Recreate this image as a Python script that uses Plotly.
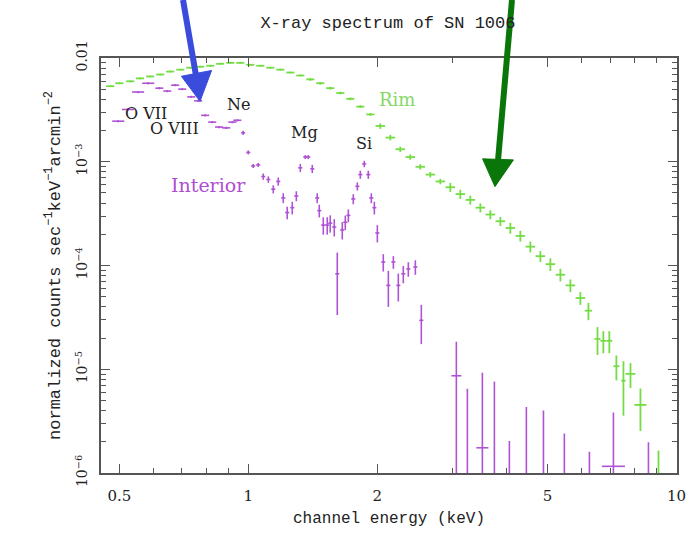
import numpy as np
import plotly.graph_objects as go

# ---------------- data ----------------
rim_energy = [0.476, 0.500, 0.530, 0.559, 0.590, 0.623, 0.657, 0.694, 0.732, 0.772,
              0.815, 0.860, 0.908, 0.958, 1.011, 1.067, 1.126, 1.188, 1.254, 1.323,
              1.396, 1.473, 1.554, 1.641, 1.731, 1.827, 1.928,
              2.034, 2.147, 2.265, 2.390, 2.522, 2.662, 2.809,
              2.964, 3.128, 3.301, 3.484, 3.676, 3.879,
              4.094, 4.320, 4.559, 4.811,
              5.077, 5.358, 5.654, 5.966,
              6.23, 6.54, 6.75, 6.97, 7.24, 7.52, 7.81, 8.24, 9.08]
rim_flux = [5.35e-3, 5.71e-3, 5.96e-3, 6.36e-3, 6.64e-3, 6.93e-3, 7.40e-3, 7.72e-3, 8.06e-3, 8.24e-3,
            8.42e-3, 8.79e-3, 8.98e-3, 8.98e-3, 8.60e-3, 8.42e-3, 8.06e-3, 7.72e-3, 7.24e-3, 6.78e-3,
            6.22e-3, 5.71e-3, 5.12e-3, 4.60e-3, 4.04e-3, 3.40e-3, 2.86e-3,
            2.21e-3, 1.71e-3, 1.32e-3, 1.11e-3, 8.94e-4, 7.52e-4, 6.46e-4,
            5.68e-4, 4.88e-4, 4.29e-4, 3.61e-4, 3.10e-4, 2.67e-4,
            2.30e-4, 1.93e-4, 1.52e-4, 1.23e-4,
            1.03e-4, 8.15e-5, 6.43e-5, 4.86e-5,
            3.67e-5, 1.96e-5, 1.88e-5, 1.88e-5, 1.07e-5, 7.76e-6, 9.03e-6, 4.53e-6, 9.0e-7]
rim_rel_err = [0.02] * 20 + [0.03] * 7 + [0.06] * 7 + [0.10] * 6 + [0.12] * 4 + [0.14] * 4 + \
              [0.19, 0.30, 0.24, 0.24, 0.27, 0.54, 0.27, 0.44, 0.83]
rim_rel_bin = [0.022] * 27 + [0.026] * 21 + [0.02, 0.016, 0.016, 0.016, 0.016, 0.012, 0.027, 0.033, 0.02]

int_energy = [0.497, 0.524, 0.553, 0.584, 0.620, 0.647, 0.675, 0.701, 0.736, 0.764,
              0.793, 0.824, 0.855, 0.888, 0.918, 0.943, 0.973, 1.000, 1.027, 1.055,
              1.084, 1.114, 1.144, 1.175, 1.207, 1.233, 1.267, 1.295, 1.323, 1.359,
              1.381, 1.411, 1.449, 1.465, 1.497, 1.529, 1.554, 1.588, 1.614, 1.658,
              1.685, 1.713, 1.759, 1.798, 1.827, 1.866, 1.907, 1.938, 1.970, 2.002,
              2.067, 2.124, 2.182, 2.241, 2.302, 2.365, 2.456, 2.536, 3.062, 3.249,
              3.522, 3.757, 4.072, 4.462, 4.891, 5.473, 6.262, 7.125, 8.602]
int_flux = [2.46e-3, 3.19e-3, 4.70e-3, 5.71e-3, 5.12e-3, 4.80e-3, 5.47e-3, 5.01e-3, 4.22e-3, 3.87e-3,
            2.80e-3, 2.41e-3, 2.16e-3, 2.12e-3, 2.41e-3, 2.51e-3, 1.90e-3, 1.23e-3, 9.12e-4, 9.33e-4,
            7.20e-4, 6.75e-4, 5.44e-4, 6.46e-4, 4.48e-4, 3.24e-4, 3.61e-4, 4.68e-4, 8.74e-4, 1.11e-3,
            1.11e-3, 8.55e-4, 4.48e-4, 3.38e-4, 2.45e-4, 2.45e-4, 2.56e-4, 2.35e-4, 8.32e-5, 2.20e-4,
            2.61e-4, 3.04e-4, 4.38e-4, 5.80e-4, 7.52e-4, 9.53e-4, 7.52e-4, 4.48e-4, 3.61e-4, 2.06e-4,
            1.08e-4, 6.43e-5, 1.08e-4, 6.43e-5, 8.32e-5, 9.27e-5, 9.68e-5, 2.96e-5, 8.65e-6, 8.0e-7,
            1.75e-6, 8.0e-7, 6.0e-7, 8.0e-7, 8.0e-7, 6.0e-7, 5.0e-7, 1.16e-6, 6.0e-7]
int_rel_err = [0.025] * 16 + [0.045, 0.045, 0.045, 0.045, 0.07, 0.07, 0.09, 0.09, 0.11, 0.14,
               0.14, 0.11, 0.09, 0.045, 0.045, 0.09, 0.11, 0.14, 0.19, 0.19,
               0.19, 0.19, 0.6, 0.19, 0.16, 0.14, 0.11, 0.09, 0.09, 0.07,
               0.09, 0.11, 0.14, 0.19, 0.19, 0.38, 0.14, 0.3, 0.19, 0.16,
               0.16, 0.41, 1.13, 7.1, 4.3, 8.5, 2.4, 4.4, 4.0, 3.0,
               2.2, 2.3, 2.3]
int_rel_bin = [0.033] * 4 + [0.022] * 12 + [0.011] * 42 + \
              [0.027, 0.02, 0.033, 0.02, 0.02, 0.02, 0.02, 0.02, 0.02, 0.064, 0.02]

x_tick_vals = [0.5, 1, 2, 5, 10]
x_tick_text = ["0.5", "1", "2", "5", "10"]
x_minor_vals = [0.6, 0.7, 0.8, 0.9, 3, 4, 6, 7, 8, 9]
y_tick_vals = [1e-6, 1e-5, 1e-4, 1e-3, 1e-2]
y_tick_text = ["10<sup>−6</sup>", "10<sup>−5</sup>", "10<sup>−4</sup>", "10<sup>−3</sup>", "0.01"]

line_labels = ["O VII", "O VIII", "Ne", "Mg", "Si"]
line_label_x = [0.578, 0.672, 0.948, 1.352, 1.866]
line_label_y = [2.92e-3, 2.07e-3, 3.55e-3, 1.90e-3, 1.50e-3]

assert len(rim_energy) == len(rim_flux) == len(rim_rel_err) == len(rim_rel_bin)
assert len(int_energy) == len(int_flux) == len(int_rel_err) == len(int_rel_bin)

# ---------------- styling ----------------
GREEN = "#74dc44"
PURPLE = "#b052d4"
AXC = "#555555"
TXT = "#222222"
SERIF = "DejaVu Serif"
MONO = "Liberation Mono"


def spec_trace(e, f, rel, binrel, color, thick):
    e = np.array(e); f = np.array(f); rel = np.array(rel); b = np.array(binrel)
    return go.Scatter(
        x=e, y=f, mode="markers",
        marker=dict(size=1, color=color),
        error_y=dict(type="data", array=f * rel, arrayminus=f * rel,
                     thickness=thick, width=0, color=color),
        error_x=dict(type="data", array=e * b, arrayminus=e * b / (1 + b),
                     thickness=thick, width=0, color=color),
        showlegend=False, hoverinfo="skip",
    )


fig = go.Figure()
fig.add_trace(spec_trace(rim_energy, rim_flux, rim_rel_err, rim_rel_bin, GREEN, 1.8))
fig.add_trace(spec_trace(int_energy, int_flux, int_rel_err, int_rel_bin, PURPLE, 1.6))

y_minor_vals = [k * 10.0 ** p for p in range(-6, -2) for k in range(2, 10)]

fig.update_layout(
    width=699, height=536,
    margin=dict(l=101, r=22, t=58, b=51),
    paper_bgcolor="white", plot_bgcolor="white",
    title=dict(text="X-ray spectrum of SN 1006", x=0.555, xanchor="center",
               y=0.958, yanchor="middle", yref="container",
               font=dict(family=MONO, size=17, color=TXT)),
    xaxis=dict(type="log", range=[np.log10(0.453), np.log10(10.03)],
               tickvals=x_tick_vals, ticktext=x_tick_text,
               ticks="inside", ticklen=9, tickwidth=1.2, tickcolor=AXC,
               showline=True, linecolor=AXC, linewidth=2, mirror="allticks",
               showgrid=False, zeroline=False,
               minor=dict(tickvals=x_minor_vals, ticks="inside", ticklen=5,
                          tickwidth=1.2, tickcolor=AXC, showgrid=False),
               tickfont=dict(family=SERIF, size=15, color=TXT),
               ticklabelstandoff=8,
               title=dict(text="channel energy (keV)", standoff=8,
                          font=dict(family=MONO, size=16, color=TXT))),
    yaxis=dict(type="log", range=[-6, -2],
               tickvals=y_tick_vals, ticktext=y_tick_text, tickangle=-90,
               ticks="inside", ticklen=9, tickwidth=1.2, tickcolor=AXC,
               showline=True, linecolor=AXC, linewidth=2, mirror="allticks",
               showgrid=False, zeroline=False,
               minor=dict(tickvals=y_minor_vals, ticks="inside", ticklen=5,
                          tickwidth=1.2, tickcolor=AXC, showgrid=False),
               tickfont=dict(family=SERIF, size=14, color=TXT),
               ticklabelstandoff=6,
               title=dict(text="normalized counts sec<sup>−1</sup>keV<sup>−1</sup>arcmin<sup>−2</sup>",
                          standoff=8, font=dict(family=MONO, size=17, color=TXT))),
)

# spectral-line labels
for t, lx, ly in zip(line_labels, line_label_x, line_label_y):
    fig.add_annotation(x=np.log10(lx), y=np.log10(ly), text=t, showarrow=False,
                       font=dict(family=SERIF, size=16, color=TXT))
fig.add_annotation(x=np.log10(2.229), y=np.log10(3.95e-3), text="Rim", showarrow=False,
                   font=dict(family=SERIF, size=18, color="#86d866"))
fig.add_annotation(x=np.log10(0.806), y=np.log10(5.93e-4), text="Interior", showarrow=False,
                   font=dict(family=SERIF, size=19, color="#b04ed2"))

# overlaid pointer arrows (paper coordinates)
BLUE = "#3b4bdc"
DGREEN = "#0a760a"
fig.add_shape(type="line", xref="paper", yref="paper", x0=0.1424, y0=1.14, x1=0.1649, y1=0.958,
              line=dict(color=BLUE, width=6))
fig.add_shape(type="path", xref="paper", yref="paper",
              path="M0.1396,0.9560 L0.1920,0.9700 L0.1719,0.8955 Z",
              fillcolor=BLUE, line=dict(color=BLUE, width=1))
fig.add_shape(type="line", xref="paper", yref="paper", x0=0.7135, y0=1.14, x1=0.6892, y1=0.752,
              line=dict(color=DGREEN, width=6))
fig.add_shape(type="path", xref="paper", yref="paper",
              path="M0.6625,0.7570 L0.7160,0.7545 L0.6840,0.6900 Z",
              fillcolor=DGREEN, line=dict(color=DGREEN, width=1))

fig.write_html("out.html")
